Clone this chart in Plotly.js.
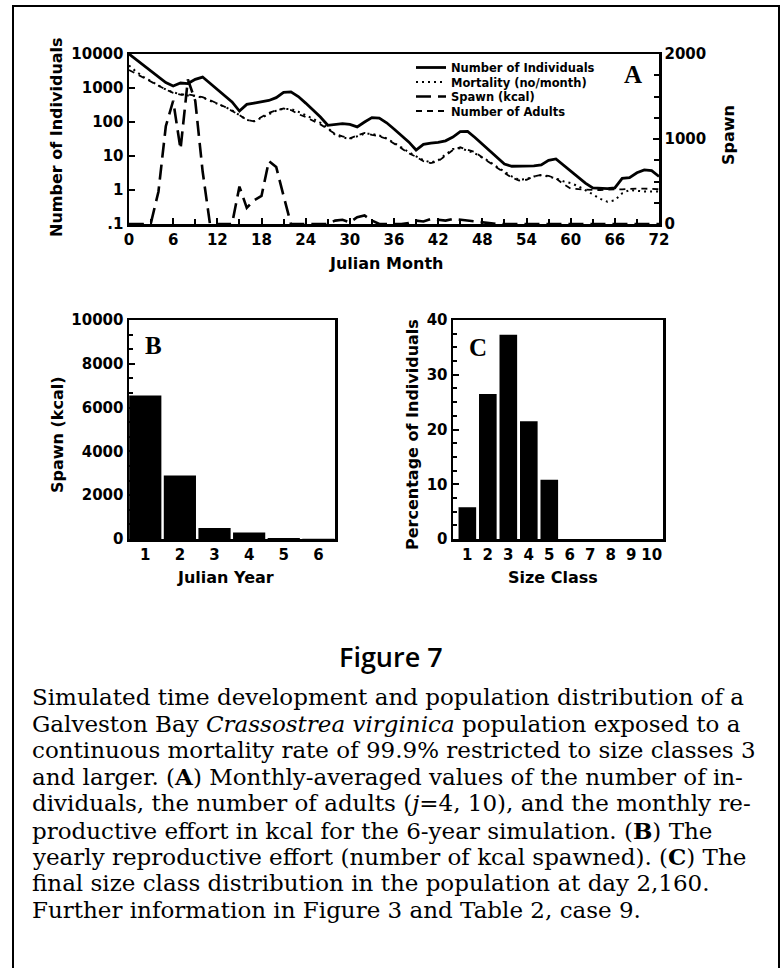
<!DOCTYPE html>
<html>
<head>
<meta charset="utf-8">
<script src="https://cdn.plot.ly/plotly-3.0.1.min.js"></script>
<style>html,body{margin:0;padding:0;background:#fff;}#chart{width:783px;height:968px;}</style>
</head>
<body>
<div id="chart"></div>
<script>
// ---------- DATA ----------
const months = [0,1,2,3,4,5,6,7,8,9,10,11,12,13,14,15,16,17,18,19,20,21,22,23,24,25,26,27,28,29,30,31,32,33,34,35,36,37,38,39,40,41,42,43,44,45,46,47,48,49,50,51,52,53,54,55,56,57,58,59,60,61,62,63,64,65,66,67,68,69,70,71,72];
const individuals = [10000,6800,4600,3100,2100,1450,1150,1400,1350,1800,2100,1400,920,600,390,210,330,360,390,430,520,740,770,560,360,225,140,80,85,90,85,72,100,135,130,95,62,40,26,15,22,24,25,28,36,52,53,35,22,14,9,5.8,5,5,5,5.1,5.5,7.5,8.2,5.5,3.6,2.4,1.6,1.15,1.1,1.1,1.15,2.2,2.3,3.2,3.9,3.7,2.5];
const mortality = [4600,3000,2100,1600,1200,900,750,650,600,580,520,430,350,280,220,160,115,105,135,175,215,245,240,200,160,125,95,68,42,35,32,38,45,45,40,33,25,18,13,10,7.5,6.5,7.5,11,16,17,14,12,9,6.8,4.8,3.5,2.5,2.0,2.1,2.5,2.7,2.5,2.2,1.8,1.6,1.3,1.0,0.75,0.55,0.45,0.5,0.8,1.0,0.95,0.9,0.9,0.9];
const adults = [3400,2600,2000,1500,1150,900,720,640,650,600,540,440,350,280,210,160,115,105,140,185,220,250,225,170,140,110,85,62,45,38,33,40,48,42,38,32,24,17,12,9.5,7,6.2,7,10,15,18,15,13,9,6.5,4.5,3.2,2.3,1.9,2.0,2.5,2.8,2.6,2.2,1.5,1.1,1.05,1.0,1.0,1.0,1.05,1.05,1.05,1.1,1.1,1.1,1.05,1.05];
const spawnMonthly = [0,0,0,20,380,1150,1450,880,1700,1450,620,0,0,0,0,440,190,280,330,740,670,330,0,0,0,0,0,0,40,50,20,80,100,40,0,0,0,0,10,40,30,60,50,40,60,50,40,30,20,10,0,0,0,0,0,0,0,0,0,0,0,0,0,0,0,0,0,0,0,0,0,0,0];

const years = [1,2,3,4,5,6];
const spawnYearly = [6550,2900,500,300,50,10];

const sizeClasses = [1,2,3,4,5,6,7,8,9,10];
const pctIndividuals = [5.8,26.5,37.3,21.5,10.8,0,0,0,0,0];

const monthTicks = [0,6,12,18,24,30,36,42,48,54,60,66,72];
const logTickVals = [0.1,1,10,100,1000,10000];
const logTickText = ['.1','1','10','100','1000','10000'];
const spawnTickVals = [0,1000,2000];
const spawnKcalTicks = [0,2000,4000,6000,8000,10000];
const spawnKcalText = ['0','2000','4000','6000','8000','10000'];
const pctTicks = [0,10,20,30,40];

const legendNames = ['Number of Individuals','Mortality (no/month)','Spawn (kcal)','Number of Adults'];

const captionTitle = 'Figure 7';
const captionLines = [
  'Simulated time development and population distribution of a',
  'Galveston Bay <i>Crassostrea virginica</i> population exposed to a',
  'continuous mortality rate of 99.9% restricted to size classes 3',
  'and larger. (<b>A</b>) Monthly-averaged values of the number of in-',
  'dividuals, the number of adults (<i>j</i>=4, 10), and the monthly re-',
  'productive effort in kcal for the 6-year simulation. (<b>B</b>) The',
  'yearly reproductive effort (number of kcal spawned). (<b>C</b>) The',
  'final size class distribution in the population at day 2,160.',
  'Further information in Figure 3 and Table 2, case 9.'
];

// ---------- HELPERS ----------
const W = 783, H = 968;
const px = x => x / W;
const py = y => 1 - y / H;
const tickFont = {family:'DejaVu Sans', size:15, color:'#000', weight:'bold'};
const titleFont = {family:'DejaVu Sans', size:16, color:'#000', weight:'bold'};
const letterFont = {family:'Liberation Serif', size:25, color:'#000', weight:'bold'};

const baseAxis = {
  showline:true, linecolor:'#000', linewidth:2.5, mirror:true,
  showgrid:false, zeroline:false, ticks:'inside', ticklen:6, tickwidth:2,
  tickcolor:'#000', tickfont:tickFont, fixedrange:true
};

// ---------- TRACES ----------
const traces = [
  {x:months, y:individuals, type:'scatter', mode:'lines', name:legendNames[0],
   line:{color:'#000', width:2.8}, xaxis:'x', yaxis:'y'},
  {x:months, y:mortality, type:'scatter', mode:'lines', name:legendNames[1],
   line:{color:'#000', width:2, dash:'2px,4px'}, xaxis:'x', yaxis:'y'},
  {x:months, y:spawnMonthly, type:'scatter', mode:'lines', name:legendNames[2],
   line:{color:'#000', width:2.6, dash:'15px,7px'}, xaxis:'x', yaxis:'y2'},
  {x:months, y:adults, type:'scatter', mode:'lines', name:legendNames[3],
   line:{color:'#000', width:1.8, dash:'6px,5px'}, xaxis:'x', yaxis:'y'},
  {x:years, y:spawnYearly, type:'bar', width:0.93, marker:{color:'#000', line:{width:0}},
   showlegend:false, xaxis:'x2', yaxis:'y3'},
  {x:sizeClasses, y:pctIndividuals, type:'bar', width:0.86, marker:{color:'#000', line:{width:0}},
   showlegend:false, xaxis:'x3', yaxis:'y4'}
];

// ---------- ANNOTATIONS ----------
const ann = [];
function txt(text, x, y, font, opts) {
  ann.push(Object.assign({text:text, x:px(x), y:py(y), xref:'paper', yref:'paper',
    showarrow:false, font:font, xanchor:'center', yanchor:'middle'}, opts || {}));
}
txt('Number of Individuals', 57, 137, titleFont, {textangle:-90});
txt('Spawn', 728, 135, titleFont, {textangle:-90});
txt('Julian Month', 386, 263, titleFont);
txt('Spawn (kcal)', 57, 435, titleFont, {textangle:-90});
txt('Julian Year', 226, 577, titleFont);
txt('Percentage of Individuals', 412, 435, titleFont, {textangle:-90});
txt('Size Class', 553, 577, titleFont);
txt('A', 633, 74, letterFont);
txt('B', 153, 345, letterFont);
txt('C', 478, 347, letterFont);
txt(captionTitle, 391, 656, {family:'Open Sans', size:27, color:'#000', weight:600});
const capY0 = 697, capDy = 26.6;
captionLines.forEach((line, i) => {
  txt(line, 30, capY0 + i * capDy, {family:'DejaVu Serif', size:23, color:'#000'}, {xanchor:'left'});
});

// ---------- LAYOUT ----------
const layout = {
  width:W, height:H, margin:{l:0,r:0,t:0,b:0},
  paper_bgcolor:'#fff', plot_bgcolor:'rgba(0,0,0,0)',
  showlegend:true,
  legend:{x:px(411), y:py(53), xanchor:'left', yanchor:'top',
    font:{family:'DejaVu Sans', size:11.5, color:'#000', weight:'bold'},
    bgcolor:'rgba(0,0,0,0)', borderwidth:0, tracegroupgap:0, itemwidth:30},
  xaxis:Object.assign({}, baseAxis, {domain:[px(129), px(659)], anchor:'y', range:[0,72],
    tickmode:'array', tickvals:monthTicks, mirror:true,
    minor:{tick0:0, dtick:3, ticks:'inside', ticklen:5, tickwidth:2, tickcolor:'#000'}}),
  yaxis:Object.assign({}, baseAxis, {domain:[py(224), py(54)], anchor:'x', type:'log', range:[-1,4],
    tickmode:'array', tickvals:logTickVals, ticktext:logTickText, mirror:false}),
  yaxis2:Object.assign({}, baseAxis, {overlaying:'y', side:'right', anchor:'x', range:[0,2000],
    tickmode:'array', tickvals:spawnTickVals, mirror:false,
    minor:{tick0:0, dtick:250, ticks:'inside', ticklen:5, tickwidth:2, tickcolor:'#000'}}),
  xaxis2:Object.assign({}, baseAxis, {domain:[px(129), px(335)], anchor:'y3', range:[0.53,6.48],
    tickmode:'array', tickvals:years, ticks:''}),
  yaxis3:Object.assign({}, baseAxis, {domain:[py(539), py(320)], anchor:'x2', range:[0,10000],
    tickmode:'array', tickvals:spawnKcalTicks, ticktext:spawnKcalText,
    minor:{tick0:0, dtick:2000/3, ticks:'inside', ticklen:4, tickwidth:2, tickcolor:'#000'}}),
  xaxis3:Object.assign({}, baseAxis, {domain:[px(453), px(663)], anchor:'y4', range:[0.3,10.55],
    tickmode:'array', tickvals:sizeClasses, ticks:''}),
  yaxis4:Object.assign({}, baseAxis, {domain:[py(539), py(320)], anchor:'x3', range:[0,40],
    tickmode:'array', tickvals:pctTicks,
    minor:{tick0:0, dtick:2.5, ticks:'inside', ticklen:4, tickwidth:2, tickcolor:'#000'}}),
  annotations:ann,
  shapes:[{type:'rect', xref:'paper', yref:'paper', x0:px(13), x1:px(779), y0:-0.05, y1:py(6),
    line:{color:'#000', width:2}, fillcolor:'rgba(0,0,0,0)'}]
};

Plotly.newPlot('chart', traces, layout, {displayModeBar:false, staticPlot:true}).then(gd => {
  // tighten legend row spacing to match the printed figure
  const items = gd.querySelectorAll('.legend .traces');
  if (!items.length) return;
  const m = /translate\(\s*([-\d.]+)[ ,]+([-\d.]+)\s*\)/.exec(items[0].getAttribute('transform') || '');
  if (!m) return;
  const x0 = +m[1], y0 = +m[2];
  items.forEach((g, i) => g.setAttribute('transform', 'translate(' + x0 + ',' + (y0 + i * 14.5) + ')'));
});
</script>
</body>
</html>
